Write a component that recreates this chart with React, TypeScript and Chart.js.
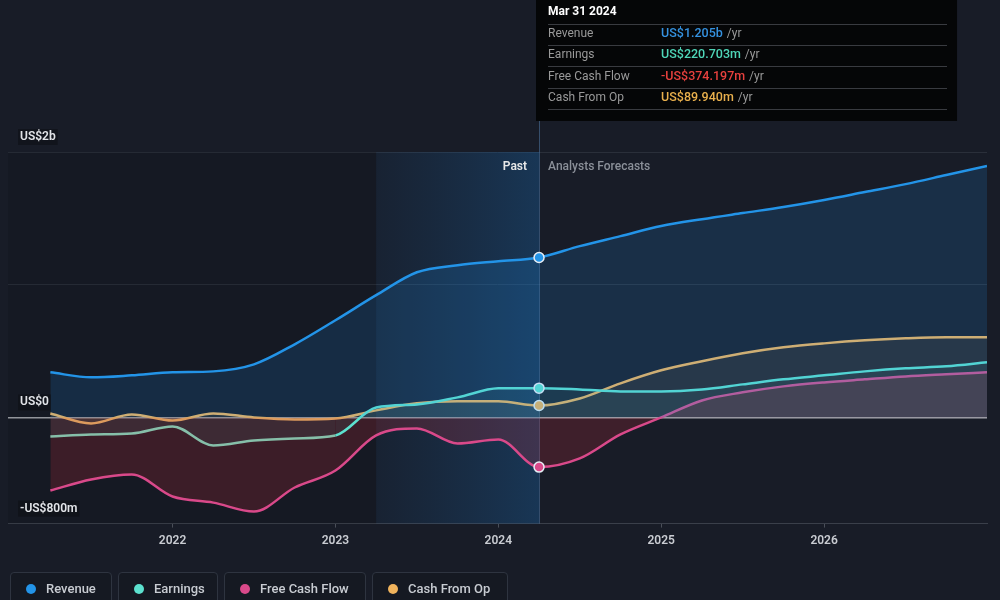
import { useEffect, useRef } from "react";
import { Chart, registerables } from "chart.js";

Chart.register(...registerables);

// Fiscal periods as fractional years (quarter ends), values in US$ millions
const periods = [
  2021.25, 2021.5, 2021.75, 2022.0, 2022.25, 2022.5, 2022.75, 2023.0,
  2023.25, 2023.5, 2023.75, 2024.0, 2024.25, 2024.5, 2024.75, 2025.0,
  2025.25, 2025.5, 2025.75, 2026.0, 2026.25, 2026.5, 2026.75, 2027.0,
];
const revenue = [
  340, 302, 317, 340, 347, 400, 551, 732, 921, 1094, 1147, 1177, 1205,
  1291, 1366, 1442, 1494, 1540, 1585, 1638, 1698, 1758, 1826, 1894,
];
const earnings = [
  -143, -128, -121, -68, -211, -174, -158, -136, 75, 98, 151, 219, 220.703,
  211, 196, 196, 211, 249, 287, 317, 347, 370, 385, 415,
];
const freeCashFlow = [
  -551, -468, -430, -596, -642, -709, -528, -400, -136, -83, -196, -166,
  -374.197, -309, -128, 0, 128, 189, 234, 264, 287, 309, 325, 340,
];
const cashFromOp = [
  30, -45, 23, -23, 30, 0, -15, -8, 53, 106, 121, 121, 89.94, 143, 257,
  355, 423, 483, 528, 558, 581, 596, 604, 604,
];

const yearTicks = [2022, 2023, 2024, 2025, 2026];
const valueTicks = [-800, 0, 1000, 2000];
const valueTickLabels = ["-US$800m", "US$0", "", "US$2b"];

const pastStart = 2023.25;
const currentPeriod = 2024.25;
const currentLabel = "Mar 31 2024";

const seriesNames = ["Revenue", "Earnings", "Free Cash Flow", "Cash From Op"];
const seriesColors = ["#2394e8", "#5ce1cf", "#d9498a", "#f0b35c"];
const seriesFills = [
  "rgba(33,150,243,0.16)",
  "rgba(92,225,207,0.07)",
  "rgba(200,45,60,0.22)",
  "rgba(240,179,92,0.08)",
];
const tooltipValues = ["US$1.205b", "US$220.703m", "-US$374.197m", "US$89.940m"];
const tooltipColors = ["#3592e0", "#4fd6b8", "#e8413e", "#e9b04d"];

const FONT = "Roboto, 'Noto Sans', sans-serif";

const decorPlugin = {
  id: "decor",
  beforeDraw(chart: any) {
    const { ctx, width, height } = chart;
    ctx.save();
    ctx.fillStyle = "#181c27";
    ctx.fillRect(0, 0, width, height);
    ctx.restore();
  },
  beforeDatasetsDraw(chart: any) {
    const { ctx, chartArea, scales } = chart;
    const x0 = scales.x.getPixelForValue(pastStart);
    const x1 = scales.x.getPixelForValue(currentPeriod);
    ctx.save();
    // darker past area
    ctx.fillStyle = "rgba(0,0,0,0.1)";
    ctx.fillRect(chartArea.left, chartArea.top, x0 - chartArea.left, chartArea.bottom - chartArea.top);
    // last-twelve-months highlight
    const g = ctx.createLinearGradient(x0, 0, x1, 0);
    g.addColorStop(0, "rgba(25,90,150,0.1)");
    g.addColorStop(1, "rgba(25,105,175,0.34)");
    ctx.fillStyle = g;
    ctx.fillRect(x0, chartArea.top, x1 - x0, chartArea.bottom - chartArea.top);
    // current period marker
    ctx.strokeStyle = "rgba(90,140,190,0.45)";
    ctx.lineWidth = 1;
    ctx.beginPath();
    ctx.moveTo(Math.round(x1) + 0.5, 0);
    ctx.lineTo(Math.round(x1) + 0.5, chartArea.bottom);
    ctx.stroke();
    ctx.restore();
  },
  afterDraw(chart: any) {
    const { ctx, scales, chartArea } = chart;
    const xNow = scales.x.getPixelForValue(currentPeriod);
    ctx.save();
    ctx.textBaseline = "middle";

    // value axis labels above their grid lines
    ctx.font = `600 12px ${FONT}`;
    valueTicks.forEach((v, i) => {
      const label = valueTickLabels[i];
      if (!label) return;
      const y = scales.y.getPixelForValue(v) - 15;
      const w = ctx.measureText(label).width;
      ctx.fillStyle = "rgba(12,14,20,0.55)";
      ctx.fillRect(18, y - 8, w + 4, 16);
      ctx.fillStyle = "#e2e4e8";
      ctx.textAlign = "left";
      ctx.fillText(label, 20, y);
    });

    // Past / forecast captions
    const capY = chartArea.top + 15;
    ctx.font = `600 12px ${FONT}`;
    ctx.fillStyle = "#e8e8e8";
    ctx.textAlign = "right";
    ctx.fillText("Past", xNow - 12, capY);
    ctx.font = `500 12px ${FONT}`;
    ctx.fillStyle = "#8b9099";
    ctx.textAlign = "left";
    ctx.fillText("Analysts Forecasts", xNow + 9, capY);

    // tooltip panel for the current period
    const bx = xNow - 3;
    const bw = 421;
    ctx.fillStyle = "#050607";
    ctx.fillRect(bx, -4, bw, 125);
    const tx = bx + 12;
    ctx.font = `bold 12px ${FONT}`;
    ctx.fillStyle = "#ffffff";
    ctx.textAlign = "left";
    ctx.fillText(currentLabel, tx, 12);
    const sepYs = [24.5, 45.5, 66.5, 88.5, 109.5];
    ctx.strokeStyle = "#393b40";
    ctx.lineWidth = 1;
    sepYs.forEach((y) => {
      ctx.beginPath();
      ctx.moveTo(tx, y);
      ctx.lineTo(bx + bw - 10, y);
      ctx.stroke();
    });
    const rowYs = [34, 55, 77, 98];
    seriesNames.forEach((name, i) => {
      const y = rowYs[i];
      ctx.font = `12px ${FONT}`;
      ctx.fillStyle = "#9a9a9a";
      ctx.fillText(name, tx, y);
      ctx.font = `500 12.5px ${FONT}`;
      ctx.fillStyle = tooltipColors[i];
      const vx = tx + 113;
      ctx.fillText(tooltipValues[i], vx, y);
      const vw = ctx.measureText(tooltipValues[i]).width;
      ctx.font = `12px ${FONT}`;
      ctx.fillStyle = "#9a9a9a";
      ctx.fillText(" /yr", vx + vw + 1, y);
    });
    ctx.restore();
  },
};

function makeDataset(values: number[], i: number) {
  return {
    label: seriesNames[i],
    data: periods.map((p, k) => ({ x: p, y: values[k] })),
    borderColor: seriesColors[i],
    backgroundColor: seriesFills[i],
    borderWidth: 2.5,
    fill: "origin",
    cubicInterpolationMode: "monotone" as const,
    pointRadius: (c: any) => (periods[c.dataIndex] === currentPeriod ? 5 : 0),
    pointHoverRadius: 0,
    pointBackgroundColor: seriesColors[i],
    pointBorderColor: "#e6edf5",
    pointBorderWidth: 1.5,
  };
}

export default function App() {
  const ref = useRef<HTMLCanvasElement>(null);

  useEffect(() => {
    document.body.style.margin = "0";
    const canvas = ref.current;
    if (!canvas) return;
    const earningsSet: any = makeDataset(earnings, 1);
    earningsSet.segment = {
      borderColor: (c: any) =>
        c.p0.parsed.y < 0 && c.p1.parsed.y < 0 ? "#86bfa9" : undefined,
    };
    const chart = new Chart(canvas, {
      type: "line",
      data: {
        datasets: [
          makeDataset(revenue, 0),
          earningsSet,
          makeDataset(freeCashFlow, 2),
          makeDataset(cashFromOp, 3),
        ] as any,
      },
      options: {
        responsive: false,
        animation: false,
        events: [],
        layout: { padding: { top: 152, left: 8, right: 13, bottom: 46 } },
        plugins: { legend: { display: false }, tooltip: { enabled: false } },
        scales: {
          x: {
            type: "linear",
            min: 2020.99,
            max: 2027.0,
            afterBuildTicks: (s: any) => {
              s.ticks = yearTicks.map((v) => ({ value: v }));
            },
            ticks: {
              color: "#c9ccd2",
              font: { family: FONT, size: 12, weight: 600 },
              padding: 6,
              maxRotation: 0,
              callback: (v: any) => String(v),
            },
            grid: {
              display: true,
              drawOnChartArea: false,
              drawTicks: true,
              tickLength: 4,
              color: "#4a4f59",
            },
            border: { display: true, color: "#3a3f4a", width: 1 },
          },
          y: {
            type: "linear",
            min: -800,
            max: 2000,
            afterBuildTicks: (s: any) => {
              s.ticks = valueTicks.map((v) => ({ value: v }));
            },
            ticks: { display: false },
            grid: {
              drawTicks: false,
              color: (c: any) =>
                c.tick && c.tick.value === 0
                  ? "#a3a6ad"
                  : c.tick && c.tick.value === -800
                  ? "rgba(0,0,0,0)"
                  : "#2a2f3a",
              lineWidth: (c: any) => (c.tick && c.tick.value === 0 ? 1.5 : 1),
            },
            border: { display: false },
          },
        },
      },
      plugins: [decorPlugin],
    });
    return () => chart.destroy();
  }, []);

  const legendWidths = [102, 100, 142, 136];

  return (
    <div
      style={{
        position: "relative",
        width: 1000,
        height: 600,
        overflow: "hidden",
        background: "#181c27",
        fontFamily: FONT,
      }}
    >
      <canvas ref={ref} width={1000} height={600} style={{ display: "block", width: 1000, height: 600 }} />
      <div style={{ position: "absolute", left: 10, top: 572, display: "flex", gap: 6 }}>
        {seriesNames.map((name, i) => (
          <div
            key={name}
            style={{
              width: legendWidths[i],
              height: 32,
              boxSizing: "border-box",
              border: "1px solid #2e3440",
              borderRadius: 4,
              background: "#151922",
              display: "flex",
              alignItems: "flex-start",
              paddingTop: 8,
              paddingLeft: 15,
            }}
          >
            <span
              style={{
                width: 10,
                height: 10,
                borderRadius: 5,
                background: seriesColors[i],
                marginTop: 3,
                marginRight: 10,
                flex: "none",
              }}
            />
            <span style={{ color: "#c8ccd2", fontSize: 13, lineHeight: "16px", fontWeight: 500 }}>{name}</span>
          </div>
        ))}
      </div>
    </div>
  );
}
